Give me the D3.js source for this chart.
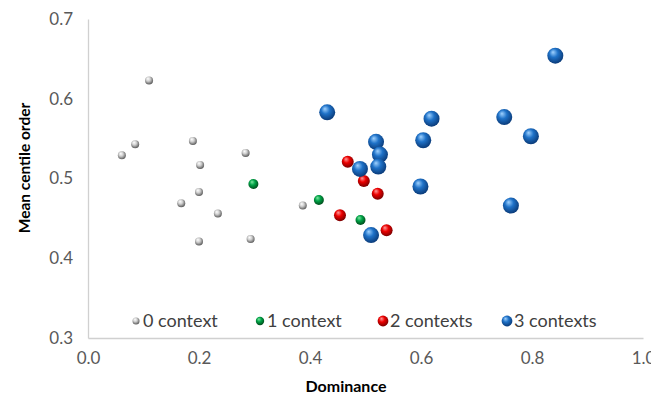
<!DOCTYPE html>
<html><head><meta charset="utf-8">
<script src="https://cdn.jsdelivr.net/npm/d3@7/dist/d3.min.js"></script>
<style>body{margin:0;background:#fff}svg{display:block}</style>
</head><body><svg id="c" width="666" height="402"></svg>
<script>
const seriesNames = ["0 context","1 context","2 contexts","3 contexts"];
const x0 = [0.110,0.085,0.061,0.189,0.284,0.202,0.200,0.168,0.234,0.200,0.293,0.387];
const y0 = [0.623,0.543,0.529,0.547,0.532,0.517,0.483,0.469,0.456,0.421,0.424,0.466];
const x1 = [0.298,0.416,0.491];
const y1 = [0.493,0.473,0.448];
const x2 = [0.468,0.497,0.522,0.454,0.538];
const y2 = [0.521,0.497,0.481,0.454,0.435];
const x3 = [0.431,0.519,0.526,0.523,0.490,0.510,0.619,0.604,0.599,0.842,0.750,0.798,0.762];
const y3 = [0.583,0.546,0.530,0.515,0.512,0.429,0.575,0.548,0.490,0.654,0.577,0.553,0.466];
const xTicks = [0.0,0.2,0.4,0.6,0.8,1.0];
const yTicks = [0.3,0.4,0.5,0.6,0.7];

const svg = d3.select("#c");
const font = "Lato, 'Open Sans', sans-serif";
const x = d3.scaleLinear().domain([0,1]).range([88,643]);
const y = d3.scaleLinear().domain([0.3,0.7]).range([338,19]);

const styles = [
  {id:"g0", stops:["#ffffff","#cfcfcf","#5a5a5a"], r:4, lr:3.5},
  {id:"g1", stops:["#7ee6a0","#00a347","#004a1a"], r:5, lr:4.2},
  {id:"g2", stops:["#ff9a9a","#ec0000","#7a0000"], r:6, lr:5.4},
  {id:"g3", stops:["#a0d2ff","#1f72c8","#0a3a78"], r:8, lr:5.4}
];
const defs = svg.append("defs");
styles.forEach(s=>{
  const g = defs.append("radialGradient").attr("id",s.id)
    .attr("cx","45%").attr("cy","40%").attr("r","60%").attr("fx","35%").attr("fy","28%");
  g.append("stop").attr("offset","0%").attr("stop-color",s.stops[0]);
  g.append("stop").attr("offset","45%").attr("stop-color",s.stops[1]);
  g.append("stop").attr("offset","100%").attr("stop-color",s.stops[2]);
});
defs.append("clipPath").attr("id","clipx").append("rect")
  .attr("x",0).attr("y",330).attr("width",651).attr("height",72);

// axes (x labels cut at the right edge like the reference)
const wrap = svg.append("g").attr("clip-path","url(#clipx)");
const gx = wrap.append("g").attr("transform","translate(0,338)")
  .call(d3.axisBottom(x).tickValues(xTicks).tickFormat(d3.format(".1f")).tickSize(0).tickPadding(14));
const gy = svg.append("g").attr("transform","translate(88,0)")
  .call(d3.axisLeft(y).tickValues(yTicks).tickFormat(d3.format(".1f")).tickSize(0).tickPadding(15));
[gx,gy].forEach(g=>{
  g.select(".domain").attr("stroke","#d0d0d0").attr("stroke-width",1.3);
  g.selectAll("text").attr("font-family",font).attr("font-size",17).attr("fill","#595959");
});

// points
const sets = [[x0,y0],[x1,y1],[x2,y2],[x3,y3]];
sets.forEach((s,i)=>{
  const data = s[0].map((v,j)=>[v,s[1][j]]);
  svg.append("g").selectAll("circle").data(data).join("circle")
    .attr("cx",d=>x(d[0])).attr("cy",d=>y(d[1])).attr("r",styles[i].r)
    .attr("fill",`url(#${styles[i].id})`);
});

// legend
const legX = [136,260,383,507];
seriesNames.forEach((n,i)=>{
  svg.append("circle").attr("cx",legX[i]).attr("cy",321).attr("r",styles[i].lr).attr("fill",`url(#${styles[i].id})`);
  svg.append("text").attr("x",legX[i]+7).attr("y",321).attr("dy","0.35em")
    .attr("font-family",font).attr("font-size",18).attr("fill","#404040").text(n);
});

// titles
svg.append("text").attr("x",346).attr("y",392).attr("text-anchor","middle")
  .attr("font-family",font).attr("font-weight","bold").attr("font-size",16).attr("fill","#000").text("Dominance");
svg.append("text").attr("transform","translate(25,168) rotate(-90)").attr("text-anchor","middle").attr("dy","0.35em")
  .attr("font-family",font).attr("font-weight","bold").attr("font-size",15.5).attr("fill","#000").text("Mean centile order");
</script></body></html>
